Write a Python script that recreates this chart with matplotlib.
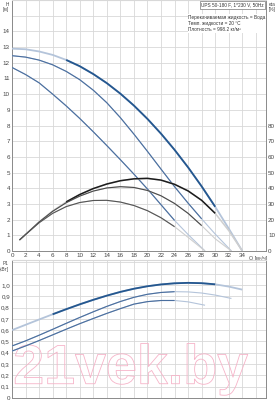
import numpy as np
import matplotlib
matplotlib.use("Agg")
import matplotlib.pyplot as plt
import matplotlib.patheffects as pe

plt.rcParams['font.family'] = ['Liberation Sans', 'DejaVu Sans']

# ---- data ----
# head curves H [m] vs Q [m3/h], speeds 3 / 2 / 1
q_s3 = [0, 2, 4, 6, 8, 10, 12, 14, 16, 18, 20, 22, 24, 26, 28, 30, 32, 34]
h_s3 = [12.9, 12.86, 12.72, 12.5, 12.18, 11.78, 11.28, 10.7, 10.03, 9.27, 8.42, 7.48, 6.45, 5.33, 4.12, 2.82, 1.43, 0]
q_s2 = [0, 2, 4, 6, 8, 10, 12, 14, 16, 18, 20, 22, 24, 26, 28, 30, 32.4]
h_s2 = [12.45, 12.36, 12.17, 11.87, 11.45, 10.92, 10.25, 9.45, 8.5, 7.45, 6.35, 5.22, 4.1, 3.05, 2.05, 1.08, 0]
q_s1 = [0, 2, 4, 6, 8, 10, 12, 14, 16, 18, 20, 22, 24, 26, 28.5]
h_s1 = [11.7, 11.25, 10.72, 10.0, 9.25, 8.45, 7.6, 6.72, 5.82, 4.9, 3.95, 2.95, 1.95, 1.05, 0]

# efficiency [%]
qe_s3 = [1.1, 2, 4, 6, 8, 10, 12, 14, 16, 18, 20, 22, 24, 26, 28, 30, 32, 34]
eta_s3 = [7, 10.5, 18.5, 25.5, 31.3, 36, 39.8, 42.7, 44.8, 46, 46.3, 45.2, 42.5, 38.3, 32.3, 24, 13, 0]
qe_s2 = [1.1, 2, 4, 6, 8, 10, 12, 14, 16, 18, 20, 22, 24, 26, 28, 30, 32.4]
eta_s2 = [7, 10.5, 18.5, 25.3, 30.8, 35, 38.2, 40.2, 41, 40.5, 38.6, 35.2, 30.3, 24, 16.2, 7.8, 0]
qe_s1 = [1.1, 2, 4, 6, 8, 10, 12, 14, 16, 18, 20, 22, 24, 26, 28.5]
eta_s1 = [7, 10.5, 18, 24, 28.3, 30.9, 32.2, 32.3, 31.2, 29, 25.7, 21.2, 15.5, 8.7, 0]

# power P1 [kW]
p_s3 = [0.60, 0.647, 0.694, 0.74, 0.785, 0.828, 0.868, 0.905, 0.938, 0.966, 0.988, 1.004, 1.014, 1.018, 1.015, 1.005, 0.985, 0.958]
p_s2 = [0.46, 0.505, 0.555, 0.607, 0.66, 0.712, 0.762, 0.81, 0.853, 0.89, 0.917, 0.933, 0.94, 0.938, 0.928, 0.91, 0.88]
p_s1 = [0.415, 0.46, 0.508, 0.558, 0.608, 0.657, 0.703, 0.748, 0.79, 0.83, 0.852, 0.862, 0.862, 0.85, 0.82]

h_ticks = list(range(0, 15))
eta_ticks = list(range(0, 90, 10))
p_ticks = [0, 0.1, 0.2, 0.3, 0.4, 0.5, 0.6, 0.7, 0.8, 0.9, 1.0]
q_ticks = list(range(0, 36, 2))

GRID = '#d8d8d8'
LIGHT_B = '#b4c4da'
LIGHT_K = '#cfcfcf'
TXT = '#444444'


def curve(ax, q, y, rng, dark, light, lw):
    q = np.asarray(q, float)
    y = np.asarray(y, float)
    ax.plot(q, y, color=light, lw=lw, solid_capstyle='butt', zorder=3)
    m = (q >= rng[0]) & (q <= rng[1])
    ax.plot(q[m], y[m], color=dark, lw=lw, solid_capstyle='butt', zorder=4)


fig = plt.figure(figsize=(2.75, 4.0), dpi=100)
ax1 = fig.add_axes([12 / 275, 149 / 400, 254 / 275, 251 / 400])
ax2 = fig.add_axes([12 / 275, 2 / 400, 254 / 275, 138 / 400])

for ax in (ax1, ax2):
    ax.set_xlim(0, 37.5)
    ax.set_xticks(list(range(0, 38, 2)))
    ax.grid(True, color=GRID, lw=0.6)
    ax.set_axisbelow(True)
    ax.tick_params(length=0, labelsize=4.5, colors=TXT, pad=1.5)
    ax.spines['top'].set_color(GRID)
    for s in ('left', 'bottom', 'right'):
        ax.spines[s].set_color('#8a8a8a')
        ax.spines[s].set_linewidth(0.7)

# ---- top panel: H and eta ----
ax1.set_ylim(0, 16)
ax1.set_yticks(list(range(0, 17)))
ax1.set_yticklabels([str(v) if v in h_ticks else '' for v in range(0, 17)])
ax1.set_xticklabels([str(v) if v in q_ticks else '' for v in range(0, 38, 2)])

ax1r = ax1.twinx()
ax1r.set_ylim(0, 160)
ax1r.set_yticks(eta_ticks)
ax1r.set_yticklabels([str(v) for v in eta_ticks])
ax1r.tick_params(length=0, labelsize=4.5, colors=TXT, pad=1.5)
for s in ax1r.spines.values():
    s.set_visible(False)

curve(ax1, q_s3, h_s3, (7, 30), '#24578f', LIGHT_B, 1.3)
curve(ax1, q_s2, h_s2, (0, 28), '#4a6e9e', LIGHT_B, 0.8)
curve(ax1, q_s1, h_s1, (0, 24), '#4a6e9e', LIGHT_B, 0.8)
curve(ax1r, qe_s3, eta_s3, (7, 30), '#1c1c1c', LIGHT_K, 1.1)
curve(ax1r, qe_s2, eta_s2, (0, 28), '#4a4a4a', LIGHT_K, 0.8)
curve(ax1r, qe_s1, eta_s1, (0, 24), '#555555', LIGHT_K, 0.8)

ax1.text(-0.5, 15.9, 'H\n[м]', fontsize=3.4, color=TXT, ha='right', va='top', linespacing=1.1)
ax1.text(37.9, 15.9, 'eta\n[%]', fontsize=3.4, color=TXT, ha='left', va='top', linespacing=1.1)
ax1.text(35.0, -0.3, 'Q [м³/ч]', fontsize=3.8, color=TXT, ha='left', va='top')
ax1.text(37.2, 15.85, 'UPS 50-180 F, 1*230 V, 50Hz', fontsize=3.4, color='#333333', ha='right', va='top',
         bbox=dict(boxstyle='square,pad=0.25', fc='white', ec='#777777', lw=0.5))
ax1.text(26.0, 15.05, 'Перекачиваемая жидкость = Вода\nТемп. жидкости = 20 °C\nПлотность = 998.2 кг/м³',
         fontsize=3.4, color='#333333', ha='left', va='top', linespacing=1.3,
         bbox=dict(boxstyle='square,pad=0.1', fc='white', ec='none'))

# ---- bottom panel: P1 ----
ax2.set_ylim(0, 1.22)
p_grid = [round(0.1 * i, 1) for i in range(0, 13)]
ax2.set_yticks(p_grid)
ax2.set_yticklabels(['0' if v == 0 else f'{v:.1f}'.replace('.', ',') if v in p_ticks else ''
                     for v in p_grid])
ax2.set_xticklabels([])

curve(ax2, q_s3, p_s3, (5.5, 30), '#24578f', LIGHT_B, 1.3)
curve(ax2, q_s2, p_s2, (0, 24), '#4a6e9e', LIGHT_B, 0.8)
curve(ax2, q_s1, p_s1, (0, 24), '#4a6e9e', LIGHT_B, 0.8)

ax2.text(-0.5, 1.21, 'P1\n[кВт]', fontsize=3.4, color=TXT, ha='right', va='top', linespacing=1.1)

# watermark
ax2.text(17.5, 0.02, '21vek.by', fontsize=40, fontweight='bold', family='Liberation Sans',
         color='none', ha='center', va='bottom', zorder=2,
         path_effects=[pe.Stroke(linewidth=0.6, foreground='#f6b3c8')])

fig.savefig('out.png', dpi=100)
